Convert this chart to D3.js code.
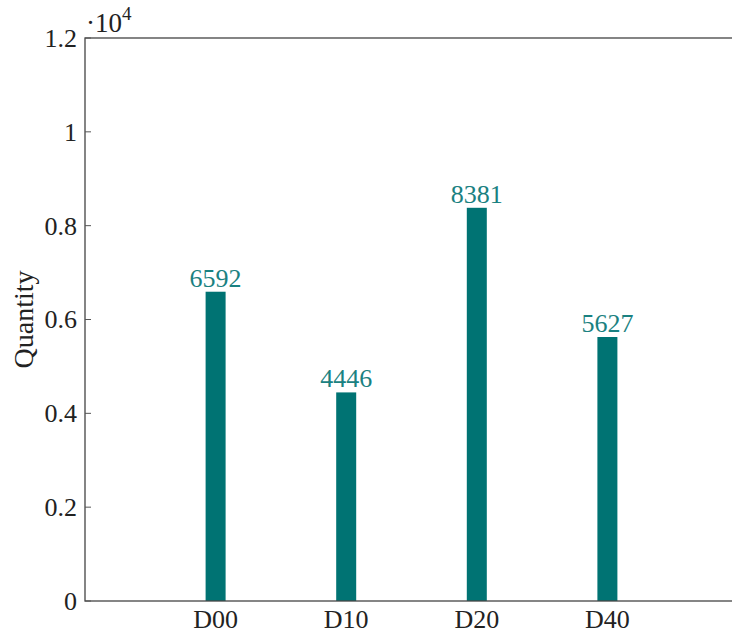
<!DOCTYPE html>
<html>
<head>
<meta charset="utf-8">
<script src="https://cdn.jsdelivr.net/npm/d3@7"></script>
<style>
  body { margin: 0; background: #fff; }
  svg text { font-family: "Liberation Serif", "DejaVu Serif", serif; fill: #222; }
  .axis-line { stroke: #444; stroke-width: 1.3; fill: none; }
  .tick-mark { stroke: #555; stroke-width: 1; }
</style>
</head>
<body>
<div id="chart"></div>
<script>
// bar chart: quantity per category (pgfplots-like look)
const CATEGORIES = ["D00", "D10", "D20", "D40"];
const QUANTITY = [6592, 4446, 8381, 5627];
const Y_TICKS = [0, 2000, 4000, 6000, 8000, 10000, 12000];
const Y_TICK_LABELS = ["0", "0.2", "0.4", "0.6", "0.8", "1", "1.2"];

const W = 732, H = 634;
const BOX = { left: 85, right: 738, top: 38, bottom: 601 };
const BAR_COLOR = "#007373";
const LABEL_COLOR = "#1a8181";

const svg = d3.select("#chart").append("svg")
    .attr("width", W).attr("height", H);

const x = d3.scalePoint().domain(CATEGORIES).range([BOX.left, BOX.right]).padding(1);
const y = d3.scaleLinear().domain([0, 12000]).range([BOX.bottom, BOX.top]);

// bars
const barW = 20;
svg.selectAll(".bar").data(QUANTITY).join("rect").attr("class", "bar")
    .attr("x", (d, i) => x(CATEGORIES[i]) - barW / 2)
    .attr("y", d => y(d))
    .attr("width", barW)
    .attr("height", d => y(0) - y(d))
    .attr("fill", BAR_COLOR);

// values above bars
svg.selectAll(".val").data(QUANTITY).join("text").attr("class", "val")
    .attr("x", (d, i) => x(CATEGORIES[i]))
    .attr("y", d => y(d) - 5)
    .attr("text-anchor", "middle")
    .style("font-size", "26px")
    .style("fill", LABEL_COLOR)
    .text(d => d);

// axis box
svg.append("rect").attr("class", "axis-line")
    .attr("x", BOX.left).attr("y", BOX.top)
    .attr("width", BOX.right - BOX.left).attr("height", BOX.bottom - BOX.top);

// y ticks, inward on both sides
const yAxis = svg.append("g");
Y_TICKS.forEach((t, i) => {
  const ty = y(t);
  yAxis.append("line").attr("class", "tick-mark")
      .attr("x1", BOX.left).attr("x2", BOX.left + 6).attr("y1", ty).attr("y2", ty);
  yAxis.append("line").attr("class", "tick-mark")
      .attr("x1", BOX.right).attr("x2", BOX.right - 6).attr("y1", ty).attr("y2", ty);
  yAxis.append("text")
      .attr("x", BOX.left - 8).attr("y", ty)
      .attr("dy", "0.34em")
      .attr("text-anchor", "end")
      .style("font-size", "26px")
      .text(Y_TICK_LABELS[i]);
});

// x labels
svg.selectAll(".xlab").data(CATEGORIES).join("text").attr("class", "xlab")
    .attr("x", d => x(d)).attr("y", 628)
    .attr("text-anchor", "middle")
    .style("font-size", "26px")
    .text(d => d);

// y axis title
svg.append("text")
    .attr("transform", `translate(33,${(BOX.top + BOX.bottom) / 2}) rotate(-90)`)
    .attr("text-anchor", "middle")
    .style("font-size", "28px")
    .text("Quantity");

// scale factor ·10^4
const sf = svg.append("text").attr("x", 86).attr("y", 32).style("font-size", "27px");
sf.append("tspan").text("·10");
sf.append("tspan").attr("dy", -12).style("font-size", "19px").text("4");
</script>
</body>
</html>
